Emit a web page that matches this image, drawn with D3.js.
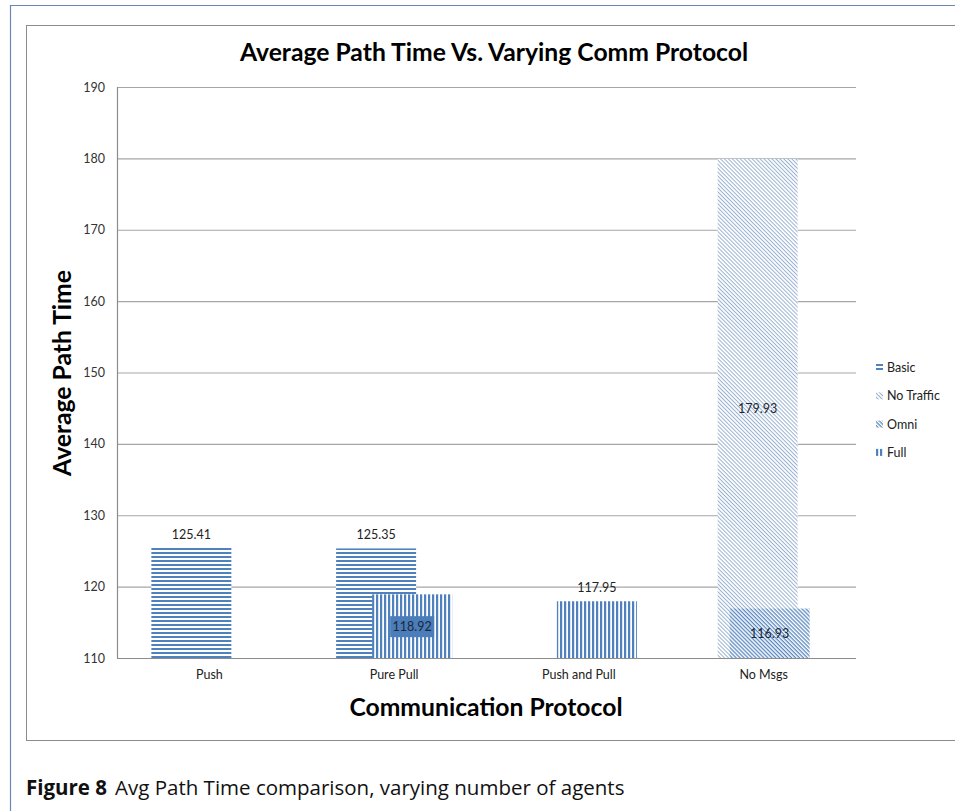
<!DOCTYPE html>
<html>
<head>
<meta charset="utf-8">
<script src="https://cdn.jsdelivr.net/npm/d3@7"></script>
<style>
  html, body { margin: 0; padding: 0; background: #fff; }
  svg { display: block; }
</style>
</head>
<body>
<svg id="chart" width="955" height="811"></svg>
<script>
// Chart data
const categories = ["Push", "Pure Pull", "Push and Pull", "No Msgs"];
const seriesNames = ["Basic", "No Traffic", "Omni", "Full"];
const basicValues = [125.41, 125.35, null, null];
const noTrafficValues = [null, null, null, 179.93];
const omniValues = [null, null, null, 116.93];
const fullValues = [null, 118.92, 117.95, null];
const yTicks = [110, 120, 130, 140, 150, 160, 170, 180, 190];

const titleText = "Average Path Time Vs. Varying Comm Protocol";
const xTitleText = "Communication Protocol";
const yTitleText = "Average Path Time";
const captionBold = "Figure 8";
const captionText = "Avg Path Time comparison, varying number of agents";

const seriesValues = [basicValues, noTrafficValues, omniValues, fullValues];

// Where each series puts its value label: above the bar or centred inside it
const labelMode = {
  "Basic": ["end", "end", null, null],
  "No Traffic": [null, null, null, "center"],
  "Omni": [null, null, null, "center"],
  "Full": [null, "boxed", "end", null]
};

const svg = d3.select("#chart");
const W = 955, H = 811;
const font = "Lato, 'Open Sans', sans-serif";
const blue = "#4f81bd";

// Pattern fills for the series
const defs = svg.append("defs");
function stripePattern(id, w, h, stripe, color, horizontal, rotate) {
  const p = defs.append("pattern")
    .attr("id", id)
    .attr("patternUnits", "userSpaceOnUse")
    .attr("width", w).attr("height", h);
  if (rotate) p.attr("patternTransform", `rotate(${rotate})`);
  p.append("rect").attr("width", w).attr("height", h).attr("fill", "#fff");
  if (horizontal) p.append("rect").attr("width", w).attr("height", stripe).attr("fill", color);
  else p.append("rect").attr("width", stripe).attr("height", h).attr("fill", color);
}
stripePattern("pat-basic", 4, 4, 2, blue, true, 0);
stripePattern("pat-notraffic", 4, 2.8, 1, "#9ab2d0", true, 45);
stripePattern("pat-omni", 4, 2.8, 1.3, "#5a88c0", true, 45);
stripePattern("pat-full", 4, 4, 2.2, blue, false, 0);
const fills = {
  "Basic": "url(#pat-basic)",
  "No Traffic": "url(#pat-notraffic)",
  "Omni": "url(#pat-omni)",
  "Full": "url(#pat-full)"
};

// Page frame and chart border
svg.append("path")
  .attr("d", `M10.5,${H} V5.5 H${W}`)
  .attr("fill", "none").attr("stroke", "#6a88b3").attr("stroke-width", 1.2);
svg.append("rect")
  .attr("x", 26.5).attr("y", 25.5).attr("width", W).attr("height", 715)
  .attr("fill", "#fff").attr("stroke", "#8c8c8c").attr("stroke-width", 1);

// Plot area
const plot = { left: 117, right: 856, top: 87, bottom: 658 };
const y = d3.scaleLinear().domain([110, 190]).range([plot.bottom, plot.top]);
const x = d3.scaleBand().domain(categories).range([plot.left, plot.right]).padding(0);
const bw = x.bandwidth();
const barW = bw * 0.433;
const offset = d3.scalePoint().domain(seriesNames).range([-bw * 0.0975, bw * 0.0975]);

// Gridlines
svg.append("g")
  .attr("transform", `translate(${plot.left},0)`)
  .call(d3.axisLeft(y).tickValues(yTicks).tickSize(-(plot.right - plot.left)).tickFormat(""))
  .call(g => g.select(".domain").remove())
  .call(g => g.selectAll(".tick line").attr("stroke", "#a6a6a6").attr("stroke-width", 1.2));

// Y tick labels
svg.append("g")
  .attr("transform", `translate(${plot.left},0)`)
  .call(d3.axisLeft(y).tickValues(yTicks).tickSize(0).tickPadding(12).tickFormat(d3.format("d")))
  .call(g => g.select(".domain").remove())
  .call(g => g.selectAll("text").attr("font-family", font).attr("font-size", 12.5).attr("fill", "#333"));

// Bars, drawn series by series so later series sit on top
const barsG = svg.append("g");
seriesNames.forEach((s, si) => {
  const data = categories.map((c, ci) => ({ c, ci, s, v: seriesValues[si][ci] })).filter(d => d.v != null);
  barsG.selectAll(null).data(data).enter().append("rect")
    .attr("x", d => x(d.c) + bw / 2 + offset(s) - barW / 2)
    .attr("y", d => y(d.v))
    .attr("width", barW)
    .attr("height", d => y(110) - y(d.v))
    .attr("fill", fills[s]);
});

// Axis lines
svg.append("line")
  .attr("x1", plot.left + 0.5).attr("x2", plot.left + 0.5)
  .attr("y1", plot.top).attr("y2", plot.bottom)
  .attr("stroke", "#8c8c8c").attr("stroke-width", 1.2);
svg.append("line")
  .attr("x1", plot.left).attr("x2", plot.right)
  .attr("y1", plot.bottom + 0.5).attr("y2", plot.bottom + 0.5)
  .attr("stroke", "#8c8c8c").attr("stroke-width", 1.2);

// Category labels
svg.append("g")
  .attr("transform", `translate(0,${plot.bottom})`)
  .call(d3.axisBottom(x).tickSize(0).tickPadding(12))
  .call(g => g.select(".domain").remove())
  .call(g => g.selectAll("text").attr("font-family", font).attr("font-size", 12.5).attr("fill", "#222"));

// Value labels
const labelsG = svg.append("g").attr("font-family", font).attr("font-size", 12.5).attr("text-anchor", "middle");
seriesNames.forEach((s, si) => {
  categories.forEach((c, ci) => {
    const v = seriesValues[si][ci];
    const mode = labelMode[s][ci];
    if (v == null || !mode) return;
    const cx = x(c) + bw / 2 + offset(s);
    const txt = d3.format(".2f")(v);
    if (mode === "end") {
      labelsG.append("text").attr("x", cx).attr("y", y(v) - 9).text(txt).attr("fill", "#222");
    } else {
      const cy = (y(v) + y(110)) / 2;
      if (mode === "boxed") {
        labelsG.append("rect")
          .attr("x", cx - 22).attr("y", cy - 10).attr("width", 44).attr("height", 21)
          .attr("fill", "#4a7dba");
      }
      labelsG.append("text").attr("x", cx).attr("y", cy + 4.5).text(txt).attr("fill", "#1c2838");
    }
  });
});

// Legend
const legend = svg.append("g").attr("transform", "translate(876,368)");
seriesNames.forEach((s, i) => {
  const g = legend.append("g").attr("transform", `translate(0,${i * 28.3})`);
  g.append("rect").attr("x", 0).attr("y", -4).attr("width", 7).attr("height", 7).attr("fill", fills[s]);
  g.append("text").attr("x", 11).attr("y", 4).text(s)
    .attr("font-family", font).attr("font-size", 12.5).attr("fill", "#222");
});

// Titles
svg.append("text")
  .attr("x", 494).attr("y", 61).attr("text-anchor", "middle")
  .attr("font-family", font).attr("font-weight", "bold").attr("font-size", 24.7)
  .text(titleText);
svg.append("text")
  .attr("x", 486).attr("y", 716).attr("text-anchor", "middle")
  .attr("font-family", font).attr("font-weight", "bold").attr("font-size", 24.7)
  .text(xTitleText);
svg.append("text")
  .attr("transform", "translate(71,373) rotate(-90)").attr("text-anchor", "middle")
  .attr("font-family", font).attr("font-weight", "bold").attr("font-size", 24.7)
  .text(yTitleText);

// Caption
const cap = svg.append("text")
  .attr("x", 26).attr("y", 795)
  .attr("font-family", "'Open Sans', sans-serif").attr("font-size", 20.5).attr("fill", "#111");
cap.append("tspan").attr("font-weight", "bold").text(captionBold);
cap.append("tspan").attr("dx", 8).text(captionText);
</script>
</body>
</html>
